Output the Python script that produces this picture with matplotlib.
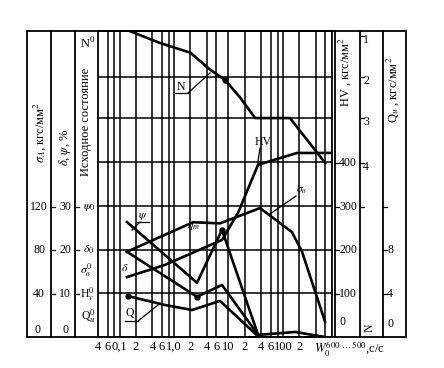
import numpy as np
import matplotlib.pyplot as plt

plt.rcParams['font.family'] = ['Liberation Serif', 'DejaVu Serif']
plt.rcParams['mathtext.fontset'] = 'stix'

# cooling rate W, c/c (log axis) and the properties
n_rate = [0.155, 0.55, 2.0, 4.6, 8.6, 16, 31, 135, 600]
n_val = [0.91, 1.19, 1.42, 1.82, 2.06, 2.46, 2.96, 2.96, 4.02]

hv_rate = [0.136, 0.68, 7.6, 15, 35, 182, 737]
hv_val = [137, 165, 222, 284, 394, 421, 421]

sb_rate = [0.136, 2.23, 7.0, 38, 147, 225, 596]
sb_val = [78, 105, 104, 118, 96, 78, 14]

psi_rate = [0.136, 2.64, 7.6, 35]
psi_val = [26.3, 12.4, 24.5, 0.5]

delta_rate = [0.136, 2.64, 7.6, 35]
delta_val = [19.5, 9.2, 11.9, 0.5]

q_rate = [0.14, 0.68, 2.14, 7.0, 33, 167, 596]
q_val = [3.75, 2.93, 2.47, 3.3, 0.18, 0.46, 0.0]

grid_rates = [0.06, 0.08, 0.1, 0.2, 0.4, 0.6, 0.8, 1, 2, 4, 6, 10,
              20, 40, 60, 80, 100, 200, 400, 600]
tick_rates = [0.04, 0.06, 0.1, 0.2, 0.4, 0.6, 1, 2, 4, 6, 10, 20, 40, 60, 100, 200]
tick_labels = ['4', '6', '0,1', '2', '4', '6', '1,0', '2', '4', '6', '10',
               '2', '4', '6', '100', '2']


# everything is plotted in HV units, other scales are converted
def from_sigma(v):
    return np.array(v) * 2.5


def from_pct(v):
    return np.array(v) * 10.0


def from_q(v):
    return np.array(v) * 25.0


def from_n(v):
    return 400 + (4 - np.array(v)) * 97.0


fig = plt.figure(figsize=(4.44, 3.68), dpi=100)
ax = fig.add_axes([98 / 444, 31 / 368, 234 / 444, 306 / 368])
ax.set_xscale('log')
ax.set_xlim(0.04, 800)
ax.set_ylim(0, 700)

for r in grid_rates:
    ax.axvline(r, color='k', lw=1.1, zorder=1)
for h in [100, 200, 300, 400, 500, from_n(2)]:
    ax.axhline(h, color='k', lw=1.1, zorder=1)

lw = 1.9
ax.plot(n_rate, from_n(n_val), color='k', lw=lw, zorder=3)
ax.plot(hv_rate, hv_val, color='k', lw=lw, zorder=3)
ax.plot(sb_rate, from_sigma(sb_val), color='k', lw=lw, zorder=3)
ax.plot(psi_rate, from_pct(psi_val), color='k', lw=lw, zorder=3)
ax.plot(delta_rate, from_pct(delta_val), color='k', lw=lw, zorder=3)
ax.plot(q_rate, from_q(q_val), color='k', lw=lw, zorder=3)
ax.plot([n_rate[4]], from_n([n_val[4]]), 'ko', ms=3.5, zorder=4)
ax.plot([q_rate[0]], from_q([q_val[0]]), 'ko', ms=3.5, zorder=4)
ax.plot([delta_rate[1]], from_pct([delta_val[1]]), 'ko', ms=3.5, zorder=4)
ax.plot([psi_rate[2]], from_pct([psi_val[2]]), 'ko', ms=3.5, zorder=4)

ax.set_xticks(tick_rates, tick_labels)
ax.set_xticks([], minor=True)
ax.set_yticks([])
ax.tick_params(axis='x', length=0, pad=3, labelsize=9)
for s in ax.spines.values():
    s.set_linewidth(1.3)


# layout helpers: pixel position of the scan -> axes fraction
def fx(px):
    return (px - 98) / 234.0


def fy(py):
    return (337 - py) / 306.0


def vline(px, y0=0, y1=1, lw=1.3):
    ax.plot([fx(px), fx(px)], [y0, y1], color='k', lw=lw,
            transform=ax.transAxes, clip_on=False)


def seg(p, q, lw=0.9):
    ax.plot([fx(p[0]), fx(q[0])], [fy(p[1]), fy(q[1])], color='k', lw=lw,
            transform=ax.transAxes, clip_on=False, zorder=5)


def txt(px, py, s, **kw):
    kw.setdefault('ha', 'center')
    kw.setdefault('va', 'center')
    kw.setdefault('fontsize', 8.5)
    ax.text(fx(px), fy(py), s, transform=ax.transAxes, clip_on=False, **kw)


# outer frame and side columns
ax.plot([fx(27), fx(406)], [1, 1], color='k', lw=1.3, transform=ax.transAxes, clip_on=False)
ax.plot([fx(27), fx(406)], [0, 0], color='k', lw=1.3, transform=ax.transAxes, clip_on=False)
for px in [27, 51, 75, 335, 360, 383, 406]:
    vline(px)

# left scales
for h, a, b in [(207, '120', '30'), (250, '80', '20'), (294, '40', '10')]:
    txt(39, h, a)
    txt(65, h, b)
    seg((51, h), (55, h))
    seg((75, h), (79, h))
txt(37, 330, '0')
txt(65, 330, '0')
txt(40, 133, r'$\sigma_A$, кгс/мм$^2$', rotation=90, fontsize=9)
txt(65, 147, r'$\delta$, $\psi$, %', rotation=90, fontsize=9)
txt(86, 122, 'Исходное состояние', rotation=90, fontsize=9)
txt(88, 43, r'N$^0$', fontsize=9)
txt(89, 207, r'$\psi_0$')
txt(89, 250, r'$\delta_0$')
txt(86, 270, r'$\sigma^0_в$')
txt(87, 294, r'H$^0_v$')
txt(88, 316, r'Q$^0_и$')

# right scales
for h, a in [(163, '400'), (207, '300'), (250, '200'), (294, '100')]:
    txt(348, h, a)
    seg((335, h), (339, h))
txt(342, 322, '0')
for h, a in [(36, '1'), (77, '2'), (118, '3'), (163, '4')]:
    txt(366, h + 4, a)
    seg((360, h), (364, h))
seg((360, 207), (364, 207))
for h, a in [(250, '8'), (294, '4')]:
    txt(390, h, a)
    seg((383, h), (387, h))
seg((383, 207), (387, 207))
txt(390, 324, '0')
txt(370, 328, 'N', rotation=90)
txt(345, 72, 'HV , кгс/мм$^2$', rotation=90, fontsize=9)
txt(393, 90, 'Q$_и$ , кгс/мм$^2$', rotation=90, fontsize=9)
txt(350, 349, r'$W_0^{600\ \ldots\ 500}$,c/c', fontsize=9)

# curve labels with leaders
txt(181, 87, 'N')
seg((175, 93), (188, 93))
seg((188, 93), (210, 73))
txt(263, 142, 'HV')
seg((260, 148), (257, 168))
txt(302, 190, r'$\sigma_в$')
seg((296, 196), (270, 214))
txt(143, 216, r'$\psi$')
seg((137, 222), (149, 222))
seg((140, 222), (132, 230))
txt(194, 226, r'$\eta_т$')
txt(125, 268, r'$\delta$')
txt(130, 313, 'Q')
seg((125, 321), (138, 321))
seg((138, 321), (158, 305))

fig.savefig('out.png', dpi=100)
